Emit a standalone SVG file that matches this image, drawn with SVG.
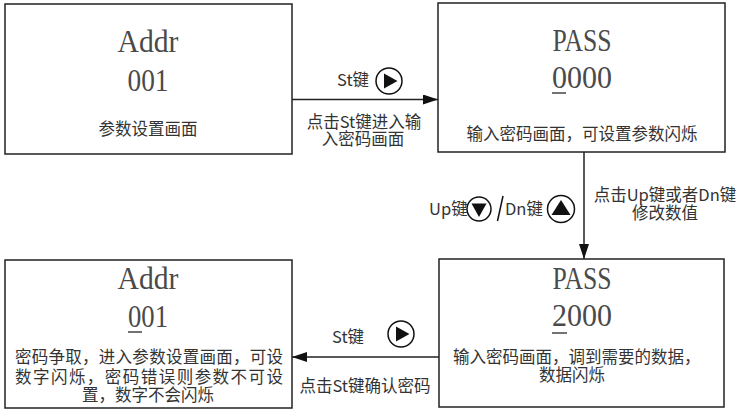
<svg xmlns="http://www.w3.org/2000/svg" width="739" height="410" viewBox="0 0 739 410">
<style>
.box{fill:#fff;stroke:#222;stroke-width:1.5}
.big{font-family:"Liberation Serif",serif;font-size:31px;fill:#4a4a4a}
.lbl{font-family:"Noto Sans CJK SC",sans-serif;font-size:16.5px;fill:#333}
.ul{stroke:#444;stroke-width:1.5}
.conn{stroke:#222;stroke-width:1.5;fill:none;marker-end:url(#ah)}
.btn{fill:#fff;stroke:#111;stroke-width:1.5}
.tri{fill:#111}
</style>
<defs>
<marker id="ah" markerUnits="userSpaceOnUse" markerWidth="15" markerHeight="10" refX="15" refY="5" orient="auto">
<path d="M0,0 L15,5 L0,10 z" fill="#111"/>
</marker>
<g id="play"><circle class="btn" r="13"/><polygon class="tri" points="-5,-7.5 -5,7.5 8.5,0"/></g>
<g id="down"><circle class="btn" r="12"/><polygon class="tri" points="-7.5,-5.5 7.5,-5.5 0,8"/></g>
<g id="up"><circle class="btn" r="13.5"/><polygon class="tri" points="-9.5,6 9.5,6 0,-9"/></g>
</defs>

<g id="connectors">
<line class="conn" x1="292" y1="99.5" x2="438" y2="99.5"/>
<line class="conn" x1="584" y1="152" x2="584" y2="259"/>
<line class="conn" x1="439" y1="357" x2="292" y2="357"/>
<g id="label-st1">
<text class="lbl" x="337" y="86">St键</text>
<use href="#play" x="389" y="81"/>
<text class="lbl" x="364" y="128" text-anchor="middle">点击St键进入输</text>
<text class="lbl" x="363" y="145" text-anchor="middle">入密码画面</text>
</g>
<g id="label-updn">
<text class="lbl" x="429" y="215">Up键</text>
<use href="#down" x="479" y="209"/>
<line x1="503" y1="196" x2="497.5" y2="221" stroke="#111" stroke-width="1.5"/>
<text class="lbl" x="505" y="215">Dn键</text>
<use href="#up" x="561" y="209"/>
<text class="lbl" x="665" y="201" text-anchor="middle">点击Up键或者Dn键</text>
<text class="lbl" x="665" y="219" text-anchor="middle">修改数值</text>
</g>
<g id="label-st2">
<text class="lbl" x="332" y="343">St键</text>
<use href="#play" x="401" y="334"/>
<text class="lbl" x="365" y="392" text-anchor="middle">点击St键确认密码</text>
</g>
</g>

<g id="node-addr1">
<rect class="box" x="5" y="4" width="287" height="150"/>
<text class="big" x="148" y="52" text-anchor="middle" textLength="61" lengthAdjust="spacingAndGlyphs">Addr</text>
<text class="big" x="148" y="91" text-anchor="middle" textLength="41" lengthAdjust="spacingAndGlyphs">001</text>
<text class="lbl" x="148" y="135" text-anchor="middle">参数设置画面</text>
</g>

<g id="node-pass1">
<rect class="box" x="438" y="3" width="287" height="149"/>
<text class="big" x="582" y="51" text-anchor="middle" textLength="59" lengthAdjust="spacingAndGlyphs">PASS</text>
<text class="big" x="582" y="88" text-anchor="middle" textLength="60" lengthAdjust="spacingAndGlyphs">0000</text>
<line class="ul" x1="552" y1="93" x2="566" y2="93"/>
<text class="lbl" x="582" y="140" text-anchor="middle">输入密码画面，可设置参数闪烁</text>
</g>

<g id="node-pass2">
<rect class="box" x="439" y="259" width="285" height="148"/>
<text class="big" x="582" y="289" text-anchor="middle" textLength="59" lengthAdjust="spacingAndGlyphs">PASS</text>
<text class="big" x="582" y="326" text-anchor="middle" textLength="60" lengthAdjust="spacingAndGlyphs">2000</text>
<line class="ul" x1="552" y1="333" x2="567" y2="333"/>
<text class="lbl" x="453" y="363">输入密码画面，调到需要的数据，</text>
<text class="lbl" x="572" y="381" text-anchor="middle">数据闪烁</text>
</g>

<g id="node-addr2">
<rect class="box" x="5" y="260" width="287" height="148"/>
<text class="big" x="148" y="289" text-anchor="middle" textLength="61" lengthAdjust="spacingAndGlyphs">Addr</text>
<text class="big" x="148" y="327" text-anchor="middle" textLength="40" lengthAdjust="spacingAndGlyphs">001</text>
<line class="ul" x1="128" y1="332" x2="142" y2="332"/>
<text class="lbl" x="15" y="363" textLength="268" lengthAdjust="spacing">密码争取，进入参数设置画面，可设</text>
<text class="lbl" x="15" y="383" textLength="268" lengthAdjust="spacing">数字闪烁，密码错误则参数不可设</text>
<text class="lbl" x="148" y="401" text-anchor="middle">置，数字不会闪烁</text>
</g>
</svg>
